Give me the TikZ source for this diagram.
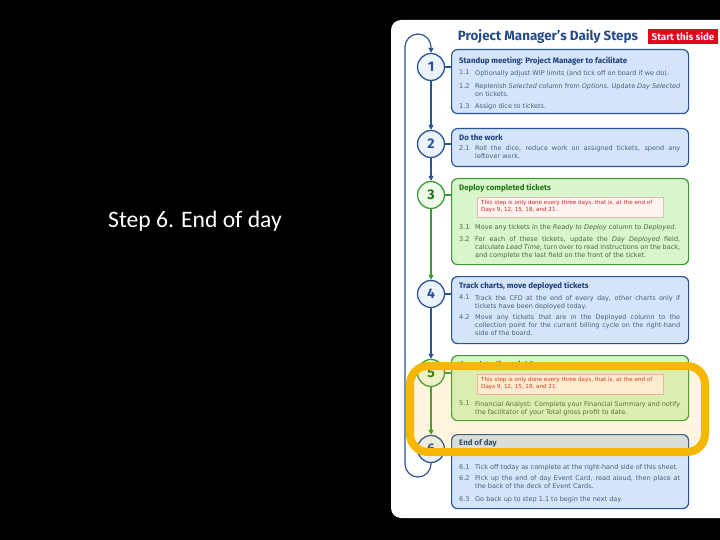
\documentclass[tikz,border=0pt]{standalone}
\usepackage{fontspec}
\setmainfont{DejaVu Sans}
\newfontfamily\slidefont{Carlito}
\newfontfamily\headfont{Fira Sans}
\usepackage{tikz}
\usetikzlibrary{arrows.meta}
\definecolor{pmblue}{HTML}{2A5595}
\definecolor{pmbluefill}{HTML}{D5E5F9}
\definecolor{pmtitle}{HTML}{1C3F7C}
\definecolor{pmtext}{HTML}{4A5C7C}
\definecolor{pmgreen}{HTML}{3D9A38}
\definecolor{pmgreenfill}{HTML}{D8F6CB}
\definecolor{pmgtitle}{HTML}{1F7414}
\definecolor{pmgtext}{HTML}{46663E}
\definecolor{pmred}{HTML}{D02A2A}
\definecolor{pmnote}{HTML}{FFF4F0}
\definecolor{pmtag}{HTML}{E3061B}
\definecolor{pmorange}{HTML}{F7B700}
\newcommand{\jl}[1]{\makebox[205pt][s]{#1}}
\tikzset{
    stepcirc/.style={
        circle, draw=pmblue, fill=pmbluefill!45, line width=1.3pt,
        minimum size=27pt, inner sep=0pt, text=pmblue,
        font=\headfont\bfseries\fontsize{14}{14}\selectfont
    },
    greencirc/.style={stepcirc, draw=pmgreen, fill=pmgreenfill!45, text=pmgtitle},
    stepbox/.style={
        draw=pmblue, fill=pmbluefill, rounded corners=6pt, line width=1.2pt,
        anchor=north west, minimum width=237pt, inner sep=0pt
    },
    greenbox/.style={stepbox, draw=pmgreen, fill=pmgreenfill},
    boxtitle/.style={
        anchor=west, inner sep=0pt, text=pmtitle,
        font=\headfont\bfseries\fontsize{7.9}{8}\selectfont
    },
    gboxtitle/.style={boxtitle, text=pmgtitle},
    itemtxt/.style={
        anchor=north west, inner sep=0pt, align=left, text=pmtext,
        font=\fontsize{6.5}{8}\selectfont
    },
    gitemtxt/.style={itemtxt, text=pmgtext},
    notebox/.style={
        draw=pmred!35, fill=pmnote, anchor=north west, line width=0.6pt,
        minimum width=186pt, minimum height=20pt, inner sep=0pt
    },
    notetxt/.style={
        anchor=north west, inner sep=0pt, align=left, text=pmred,
        font=\fontsize{5.6}{7.3}\selectfont
    },
    link/.style={line width=1.2pt, draw=pmblue},
    greenlink/.style={link, draw=pmgreen},
    bluearr/.style={link, -{Triangle[length=5pt,width=5pt]}},
    greenarr/.style={bluearr, draw=pmgreen},
    hilite/.style={
        draw=pmorange, line width=8pt, rounded corners=18pt,
        fill=pmorange, fill opacity=0.13, anchor=north west,
        minimum width=295pt, minimum height=86pt, inner sep=0pt
    }
}
\begin{document}
\begin{tikzpicture}[x=1pt, y=-1pt]
    % slide
    \fill[black] (0,0) rectangle (720,540);
    \useasboundingbox (0,0) rectangle (720,540);
    \node[anchor=west, inner sep=0pt, text=white,
          font=\slidefont\fontsize{23.6}{28}\selectfont] (caption) at (108,221) {Step 6. End of day};

    % the sheet
    \fill[white, rounded corners=10pt] (730,20) -- (391,20) -- (391,518) -- (730,518);
    \node[inner sep=0pt, text=pmblue!90!black,
          font=\headfont\bfseries\fontsize{13.4}{14}\selectfont] (title) at (548,37) {Project Manager’s Daily Steps};
    \node[fill=pmtag, text=white, minimum width=70pt, minimum height=15pt, inner sep=0pt,
          font=\headfont\bfseries\fontsize{9.8}{10}\selectfont] (start) at (683,37) {Start this side};

    % step circles
    \node[stepcirc]  (c1) at (431,67)  {1};
    \node[stepcirc]  (c2) at (431,144) {2};
    \node[greencirc] (c3) at (431,195) {3};
    \node[stepcirc]  (c4) at (431,294) {4};
    \node[greencirc] (c5) at (431,373) {5};
    \node[stepcirc]  (c6) at (431,449) {6};

    % step boxes
    \node[stepbox,  minimum height=64pt] (b1) at (451,49)  {};
    \node[stepbox,  minimum height=38pt] (b2) at (451,128) {};
    \node[greenbox, minimum height=86pt] (b3) at (451,178) {};
    \node[stepbox,  minimum height=67pt] (b4) at (451,276) {};
    \node[greenbox, minimum height=65pt] (b5) at (451,355) {};
    \node[stepbox,  minimum height=74pt] (b6) at (451,434) {};

    \draw[link]      (c1.east) -- (c1.east -| b1.west);
    \draw[link]      (c2.east) -- (c2.east -| b2.west);
    \draw[greenlink] (c3.east) -- (c3.east -| b3.west);
    \draw[link]      (c4.east) -- (c4.east -| b4.west);
    \draw[greenlink] (c5.east) -- (c5.east -| b5.west);
    \draw[link]      (c6.east) -- (c6.east -| b6.west);

    \draw[bluearr]  (c1) -- (c2);
    \draw[bluearr]  (c2) -- (c3);
    \draw[greenarr] (c3) -- (c4);
    \draw[bluearr]  (c4) -- (c5);
    \draw[greenarr] (c5) -- (c6);

    % loop back to step 1
    \coordinate (loopbr) at (431,477);
    \coordinate (loopbl) at (405,477);
    \coordinate (looptl) at (405,34);
    \coordinate (looptr) at (431,34);
    \draw[bluearr, rounded corners=13pt] (c6.south) -- (loopbr) -- (loopbl) -- (looptl) -- (looptr) -- (c1.north);

    % box 1
    \node[boxtitle] (h1) at (459,61) {Standup meeting: Project Manager to facilitate};
    \node[itemtxt] (n11) at (459,70)  {1.1};
    \node[itemtxt] (t11) at (475,70)  {Optionally adjust WIP limits (and tick off on board if we do).};
    \node[itemtxt] (n12) at (459,83)  {1.2};
    \node[itemtxt] (t12) at (475,83)  {\jl{Replenish \textit{Selected} column from \textit{Options}. Update \textit{Day Selected}}\\on tickets.};
    \node[itemtxt] (n13) at (459,103) {1.3};
    \node[itemtxt] (t13) at (475,103) {Assign dice to tickets.};

    % box 2
    \node[boxtitle] (h2) at (459,138) {Do the work};
    \node[itemtxt] (n21) at (459,145) {2.1};
    \node[itemtxt] (t21) at (475,145) {\jl{Roll the dice, reduce work on assigned tickets, spend any}\\leftover work.};

    % box 3
    \node[gboxtitle] (h3) at (459,188) {Deploy completed tickets};
    \node[notebox] (note3) at (477,197) {};
    \node[notetxt] (nt3) at (481,200) {This step is only done every three days, that is, at the end of\\Days 9, 12, 15, 18, and 21.};
    \node[gitemtxt] (n31) at (459,224) {3.1};
    \node[gitemtxt] (t31) at (475,224) {Move any tickets in the \textit{Ready to Deploy} column to \textit{Deployed}.};
    \node[gitemtxt] (n32) at (459,236) {3.2};
    \node[gitemtxt] (t32) at (475,236) {\jl{For each of these tickets, update the \textit{Day Deployed} field,}\\\jl{calculate \textit{Lead Time}, turn over to read instructions on the back,}\\and complete the last field on the front of the ticket.};

    % box 4
    \node[boxtitle] (h4) at (459,286) {Track charts, move deployed tickets};
    \node[itemtxt] (n41) at (459,295) {4.1};
    \node[itemtxt] (t41) at (475,295) {\jl{Track the CFD at the end of every day, other charts only if}\\tickets have been deployed today.};
    \node[itemtxt] (n42) at (459,314) {4.2};
    \node[itemtxt] (t42) at (475,314) {\jl{Move any tickets that are in the Deployed column to the}\\\jl{collection point for the current billing cycle on the right-hand}\\side of the board.};

    % box 5
    \node[gboxtitle] (h5) at (459,365) {Complete Financial Summary};
    \node[notebox] (note5) at (477,374) {};
    \node[notetxt] (nt5) at (481,377) {This step is only done every three days, that is, at the end of\\Days 9, 12, 15, 18, and 21.};
    \node[gitemtxt] (n51) at (459,401) {5.1};
    \node[gitemtxt] (t51) at (475,401) {\jl{Financial Analyst: Complete your Financial Summary and notify}\\the facilitator of your Total gross profit to date.};

    % box 6
    \node[boxtitle] (h6) at (459,443) {End of day};
    \node[itemtxt] (n61) at (459,464) {6.1};
    \node[itemtxt] (t61) at (475,464) {Tick off today as complete at the right-hand side of this sheet.};
    \node[itemtxt] (n62) at (459,475) {6.2};
    \node[itemtxt] (t62) at (475,475) {\jl{Pick up the end of day Event Card, read aloud, then place at}\\the back of the deck of Event Cards.};
    \node[itemtxt] (n63) at (459,496) {6.3};
    \node[itemtxt] (t63) at (475,496) {Go back up to step 1.1 to begin the next day.};

    % highlight on the slide
    \node[hilite] (focus) at (406,362) {};
\end{tikzpicture}
\end{document}
